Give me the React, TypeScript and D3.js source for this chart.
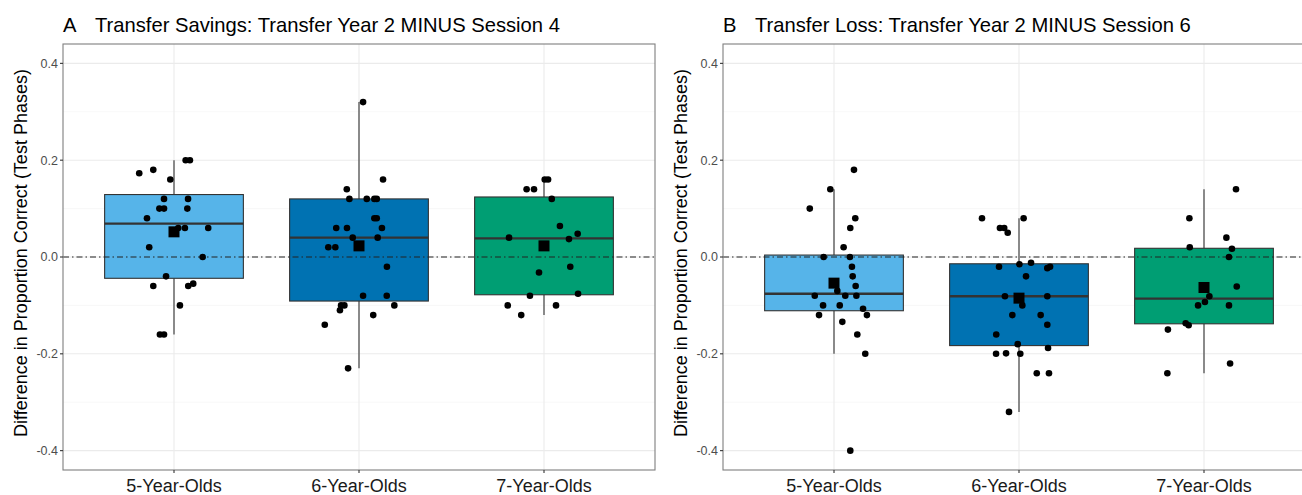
import React from "react";
import * as d3 from "d3";

const categories = ["5-Year-Olds", "6-Year-Olds", "7-Year-Olds"];
const yTicks = [0.4, 0.2, 0.0, -0.2, -0.4];
const yTickLabels = ["0.4", "0.2", "0.0", "-0.2", "-0.4"];
const yMinor = [0.3, 0.1, -0.1, -0.3];

// Panel A box statistics
const savingsLower = [-0.16, -0.23, -0.12];
const savingsQ1 = [-0.044, -0.091, -0.078];
const savingsMedian = [0.069, 0.04, 0.0385];
const savingsQ3 = [0.129, 0.12, 0.124];
const savingsUpper = [0.2, 0.32, 0.16];
const savingsMean = [0.052, 0.023, 0.023];

// Panel B box statistics
const lossLower = [-0.2, -0.32, -0.24];
const lossQ1 = [-0.111, -0.183, -0.138];
const lossMedian = [-0.076, -0.081, -0.086];
const lossQ3 = [0.004, -0.014, 0.018];
const lossUpper = [0.14, 0.08, 0.14];
const lossMean = [-0.054, -0.085, -0.063];

// points: [horizontal jitter (category units), value]
const savings5: [number, number][] = [
  [0.063, 0.2], [0.086, 0.2], [-0.188, 0.173], [-0.112, 0.18], [-0.02, 0.16],
  [-0.054, 0.12], [0.076, 0.12], [-0.079, 0.1], [-0.054, 0.1], [0.072, 0.1],
  [-0.146, 0.08], [0.023, 0.06], [0.059, 0.06], [0.185, 0.06], [-0.134, 0.02],
  [0.155, 0.0], [-0.043, -0.04], [-0.112, -0.06], [0.077, -0.06], [0.104, -0.055],
  [0.032, -0.1], [-0.076, -0.16], [-0.054, -0.16],
];
const savings6: [number, number][] = [
  [0.022, 0.32], [0.13, 0.16], [-0.066, 0.14], [-0.052, 0.12], [0.042, 0.12],
  [0.083, 0.12], [0.096, 0.12], [0.083, 0.08], [0.096, 0.08], [-0.123, 0.06],
  [-0.065, 0.06], [0.124, 0.06], [-0.034, 0.04], [0.101, 0.04], [-0.166, 0.02],
  [-0.128, 0.02], [0.151, -0.02], [0.022, -0.08], [0.15, -0.08], [-0.097, -0.1],
  [-0.079, -0.1], [-0.103, -0.11], [0.191, -0.1], [0.077, -0.12], [-0.185, -0.14],
  [-0.059, -0.23],
];
const savings7: [number, number][] = [
  [0.004, 0.16], [0.022, 0.16], [-0.094, 0.14], [-0.054, 0.14], [0.042, 0.12],
  [0.086, 0.064], [0.182, 0.048], [-0.189, 0.04], [0.135, 0.037], [0.142, -0.02],
  [-0.027, -0.032], [0.184, -0.076], [-0.076, -0.08], [-0.196, -0.1], [0.065, -0.1],
  [-0.123, -0.12],
];
const loss5: [number, number][] = [
  [0.108, 0.18], [-0.02, 0.14], [-0.131, 0.1], [0.115, 0.08], [0.088, 0.06],
  [0.052, 0.02], [-0.056, 0.0], [0.086, 0.0], [0.097, -0.02], [0.101, -0.04],
  [0.117, -0.06], [0.018, -0.07], [-0.104, -0.08], [0.061, -0.08], [0.121, -0.08],
  [-0.059, -0.1], [0.031, -0.1], [0.157, -0.107], [-0.081, -0.12], [0.178, -0.12],
  [0.045, -0.134], [0.126, -0.16], [0.169, -0.2], [0.088, -0.4],
];
const loss6: [number, number][] = [
  [-0.2, 0.08], [0.025, 0.08], [-0.103, 0.06], [-0.08, 0.06], [-0.061, 0.05],
  [0.002, -0.015], [0.065, -0.012], [-0.108, -0.02], [0.153, -0.023], [0.168, -0.02],
  [0.038, -0.04], [-0.076, -0.081], [0.153, -0.081], [0.018, -0.1], [-0.036, -0.12],
  [0.117, -0.12], [0.153, -0.14], [-0.123, -0.16], [-0.007, -0.18], [0.157, -0.188],
  [-0.124, -0.2], [-0.07, -0.199], [0.007, -0.2], [0.096, -0.24], [0.162, -0.24],
  [-0.054, -0.32],
];
const loss7: [number, number][] = [
  [0.173, 0.14], [-0.079, 0.08], [0.121, 0.04], [-0.077, 0.02], [0.151, 0.017],
  [0.135, 0.0], [0.177, -0.061], [0.029, -0.081], [0.005, -0.093], [-0.032, -0.1],
  [0.135, -0.1], [-0.099, -0.137], [-0.083, -0.141], [-0.195, -0.15], [0.141, -0.22],
  [-0.198, -0.24],
];

const fills = ["#56B4E9", "#0072B2", "#009E73"];
const FONT = "'Liberation Sans', Arial, sans-serif";

type PanelProps = {
  left: number;
  letter: string;
  title: string;
  lower: number[];
  q1: number[];
  median: number[];
  q3: number[];
  upper: number[];
  mean: number[];
  points: [number, number][][];
};

const TOP = 44;
const BOTTOM = 470;
const WIDTH = 592;

function Panel(p: PanelProps) {
  const right = p.left + WIDTH;
  const x = d3.scalePoint<string>().domain(categories).range([p.left, right]).padding(0.6);
  const step = x.step();
  const y = d3.scaleLinear().domain([-0.44, 0.44]).range([BOTTOM, TOP]);
  const bw = step * 0.75;
  return (
    <g>
      <rect x={p.left} y={TOP} width={WIDTH} height={BOTTOM - TOP} fill="#fff" />
      {yMinor.map((v) => (
        <line key={"mn" + v} x1={p.left} x2={right} y1={y(v)} y2={y(v)} stroke="#f3f3f3" strokeWidth={0.6} />
      ))}
      {yTicks.map((v) => (
        <line key={"mj" + v} x1={p.left} x2={right} y1={y(v)} y2={y(v)} stroke="#ebebeb" strokeWidth={1.1} />
      ))}
      {categories.map((c) => (
        <line key={"vx" + c} x1={x(c)} x2={x(c)} y1={TOP} y2={BOTTOM} stroke="#ebebeb" strokeWidth={1.1} />
      ))}
      {categories.map((c, i) => {
        const cx = x(c) as number;
        return (
          <g key={"box" + c}>
            <line x1={cx} x2={cx} y1={y(p.upper[i])} y2={y(p.q3[i])} stroke="#333" strokeWidth={1.1} />
            <line x1={cx} x2={cx} y1={y(p.q1[i])} y2={y(p.lower[i])} stroke="#333" strokeWidth={1.1} />
            <rect
              x={cx - bw / 2}
              y={y(p.q3[i])}
              width={bw}
              height={y(p.q1[i]) - y(p.q3[i])}
              fill={fills[i]}
              stroke="#333"
              strokeWidth={1.1}
            />
            <line x1={cx - bw / 2} x2={cx + bw / 2} y1={y(p.median[i])} y2={y(p.median[i])} stroke="#333" strokeWidth={2.4} />
          </g>
        );
      })}
      <line x1={p.left} x2={right} y1={y(0)} y2={y(0)} stroke="#222" strokeWidth={1.1} strokeDasharray="6,3,1.5,3" />
      {categories.map((c, i) => {
        const cx = x(c) as number;
        return (
          <g key={"pts" + c}>
            {p.points[i].map(([j, v], k) => (
              <circle key={k} cx={cx + j * step} cy={y(v)} r={3.3} fill="#000" />
            ))}
          </g>
        );
      })}
      {categories.map((c, i) => {
        const cx = x(c) as number;
        return <rect key={"mean" + c} x={cx - 5.5} y={y(p.mean[i]) - 5.5} width={11} height={11} fill="#000" />;
      })}
      <rect x={p.left} y={TOP} width={WIDTH} height={BOTTOM - TOP} fill="none" stroke="#7f7f7f" strokeWidth={1.1} />
      {yTicks.map((v, i) => (
        <g key={"yt" + v}>
          <line x1={p.left - 3} x2={p.left} y1={y(v)} y2={y(v)} stroke="#333" strokeWidth={1.1} />
          <text x={p.left - 5} y={y(v)} dy="0.35em" textAnchor="end" fontSize={12.5} fill="#4d4d4d" fontFamily={FONT}>
            {yTickLabels[i]}
          </text>
        </g>
      ))}
      {categories.map((c) => (
        <g key={"xt" + c}>
          <line x1={x(c)} x2={x(c)} y1={BOTTOM} y2={BOTTOM + 3} stroke="#333" strokeWidth={1.1} />
          <text x={x(c)} y={492} textAnchor="middle" fontSize={18} fill="#1a1a1a" fontFamily={FONT}>
            {c}
          </text>
        </g>
      ))}
      <text
        transform={`translate(${p.left - 36},${(TOP + BOTTOM) / 2 - 4}) rotate(-90)`}
        textAnchor="middle"
        fontSize={18}
        fill="#000"
        fontFamily={FONT}
      >
        Difference in Proportion Correct (Test Phases)
      </text>
      <text x={p.left} y={32} fontSize={20.2} fill="#000" fontFamily={FONT}>
        {p.letter}
      </text>
      <text x={p.left + 32} y={32} fontSize={20.2} fill="#000" fontFamily={FONT}>
        {p.title}
      </text>
    </g>
  );
}

export default function App() {
  return (
    <svg
      width={1302}
      height={495}
      style={{ position: "absolute", left: 0, top: 0, background: "#fff" }}
    >
      <rect x={0} y={0} width={1302} height={495} fill="#fff" />
      <Panel
        left={63}
        letter="A"
        title="Transfer Savings: Transfer Year 2 MINUS Session 4"
        lower={savingsLower}
        q1={savingsQ1}
        median={savingsMedian}
        q3={savingsQ3}
        upper={savingsUpper}
        mean={savingsMean}
        points={[savings5, savings6, savings7]}
      />
      <Panel
        left={723}
        letter="B"
        title="Transfer Loss: Transfer Year 2 MINUS Session 6"
        lower={lossLower}
        q1={lossQ1}
        median={lossMedian}
        q3={lossQ3}
        upper={lossUpper}
        mean={lossMean}
        points={[loss5, loss6, loss7]}
      />
    </svg>
  );
}
